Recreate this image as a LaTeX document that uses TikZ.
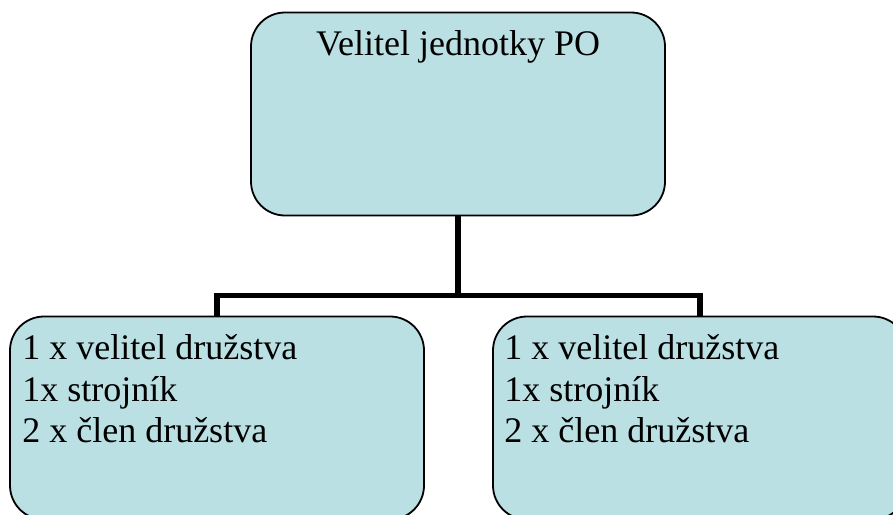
\documentclass[tikz,border=0pt]{standalone}
\usepackage{fontspec}
\setmainfont{Liberation Serif}
\usepackage{tikz}
\usepackage{xcolor}
\definecolor{vypln}{RGB}{187,224,227}

\begin{document}
\begin{tikzpicture}[x=1pt, y=1pt,
		box/.style={draw=black, line width=1.8pt, fill=vypln, rounded corners=34pt,
			minimum width=414pt, minimum height=203pt, inner sep=0pt},
		popis/.style={inner sep=0pt, font=\fontsize{36}{41.5}\selectfont},
		link/.style={black, line width=5.5pt, line join=miter}]
				%Okraje
				\clip (0,0) rectangle (893,-514);
				\useasboundingbox (0,0) rectangle (893,-514);
				%Velitel
				\node[box] (velitel) at (458,-114) {};
				\node[popis, anchor=base] (velitelText) at ([yshift=-44pt]velitel.north) {Velitel jednotky PO};
				%Druzstva
				\node[box] (druzstvoA) at (217,-418) {};
				\node[box] (druzstvoB) at (700,-418) {};
				\node[popis, anchor=base west, align=left] (druzstvoAText) at ([xshift=13pt, yshift=-127pt]druzstvoA.north west)
					{1 x velitel družstva\\1x strojník\\2 x člen družstva};
				\node[popis, anchor=base west, align=left] (druzstvoBText) at ([xshift=12pt, yshift=-127pt]druzstvoB.north west)
					{1 x velitel družstva\\1x strojník\\2 x člen družstva};
				%Spojnice
				\coordinate (uzel) at (458,-295.5);
				\draw[link] (velitel.south) -- (uzel);
				\draw[link] (druzstvoA.north) -- (druzstvoA.north |- uzel) -- (druzstvoB.north |- uzel) -- (druzstvoB.north);
\end{tikzpicture}
\end{document}
